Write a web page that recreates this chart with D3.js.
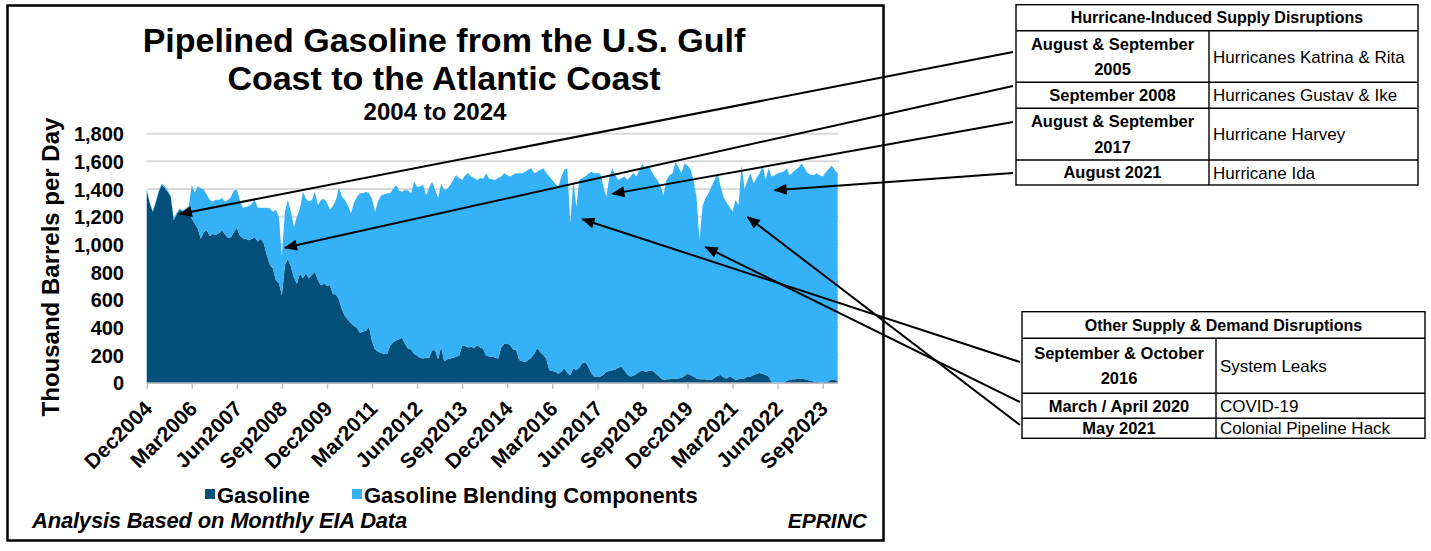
<!DOCTYPE html>
<html>
<head>
<meta charset="utf-8">
<script src="https://cdn.jsdelivr.net/npm/d3@7"></script>
<style>
  body { margin: 0; background: #fff; }
  svg text { font-family: "Liberation Sans", Arial, Helvetica, sans-serif; fill: #000; }
</style>
</head>
<body>
<svg id="chart" width="1431" height="551"></svg>
<script>
// monthly pipeline flows, thousand barrels per day, Dec 2004 .. Feb 2024
var gasoline = [
  1390,
  1300,1235,1300,1380,1430,1410,1380,1345,1175,1220,1250,1235,
  1250,1270,1185,1150,1115,1040,1090,1100,1060,1075,1070,1080,
  1100,1075,1050,1050,1090,1120,1065,1045,1040,1030,1040,1050,
  1020,1040,1005,920,855,825,740,720,630,850,895,840,
  760,715,790,755,790,755,780,800,740,705,715,700,
  705,640,640,600,530,480,455,430,410,395,360,370,
  375,400,300,240,225,215,210,205,265,290,305,315,
  325,280,245,240,210,195,180,175,180,180,235,235,
  170,260,155,170,175,180,190,195,270,265,255,260,
  250,270,255,245,195,190,190,180,175,255,280,285,
  270,240,235,165,155,150,165,180,210,250,220,200,
  175,90,85,80,65,80,105,70,55,105,90,110,
  140,150,115,70,45,45,45,55,80,85,90,95,
  110,115,90,60,45,50,65,80,90,80,85,90,
  75,55,35,20,25,25,30,30,30,35,50,65,
  55,45,30,25,25,25,20,20,35,50,55,40,
  30,45,35,20,25,30,30,45,45,55,65,70,
  65,55,45,5,0,0,0,0,15,20,25,25,
  30,30,25,20,15,8,5,3,3,5,10,25,
  20,15
];

var blending = [
  10,
  10,5,10,10,10,10,10,10,10,10,10,10,
  10,10,245,225,305,365,305,260,260,235,255,240,
  235,235,270,290,300,275,255,220,230,245,255,270,
  245,225,260,345,405,410,510,480,285,385,425,395,
  365,485,470,625,540,555,540,580,545,615,615,600,
  545,640,680,815,815,840,825,795,890,950,1010,1000,
  1005,970,1030,995,1085,1140,1150,1165,1105,1110,1125,1075,
  1055,1115,1145,1130,1245,1220,1240,1255,1175,1230,1220,1160,
  1165,1180,1240,1230,1255,1285,1310,1285,1195,1235,1260,1230,
  1230,1195,1225,1230,1320,1285,1280,1285,1305,1235,1235,1215,
  1220,1265,1280,1350,1360,1375,1375,1370,1305,1275,1320,1350,
  1345,1400,1380,1360,1350,1410,1435,1480,1095,1360,1180,1355,
  1340,1340,1395,1455,1470,1470,1465,1365,1260,1405,1460,1405,
  1355,1365,1400,1405,1445,1465,1425,1460,1495,1465,1485,1440,
  1415,1410,1385,1335,1440,1475,1485,1565,1530,1480,1535,1505,
  1490,1420,1315,1005,1250,1310,1350,1400,1430,1465,1365,1305,
  1270,1225,1200,1300,1260,1540,1370,1420,1470,1385,1415,1445,
  1505,1410,1505,1485,1500,1515,1520,1525,1535,1480,1495,1515,
  1525,1555,1525,1495,1490,1492,1510,1497,1487,1515,1535,1545,
  1520,1500
];

var seriesNames = ["Gasoline", "Gasoline Blending Components"];
var seriesColors = ["#04507a", "#35b2f7"];

var tickLabels = ["Dec2004","Mar2006","Jun2007","Sep2008","Dec2009","Mar2011","Jun2012","Sep2013",
                  "Dec2014","Mar2016","Jun2017","Sep2018","Dec2019","Mar2021","Jun2022","Sep2023"];
var yTicks = [0,200,400,600,800,1000,1200,1400,1600,1800];

// disruption tables
var hurricaneDates  = [["August & September","2005"],["September 2008"],["August & September","2017"],["August 2021"]];
var hurricaneEvents = ["Hurricanes Katrina & Rita","Hurricanes Gustav & Ike","Hurricane Harvey","Hurricane Ida"];
var hurricaneArrowMonth = ["Nov2005","Oct2008","Nov2017","May2022"];
var hurricaneArrowValue = [1220, 975, 1365, 1392];

var otherDates  = [["September & October","2016"],["March / April 2020"],["May 2021"]];
var otherEvents = ["System Leaks","COVID-19","Colonial Pipeline Hack"];
var otherArrowMonth = ["Jan2017","Jun2020","Aug2021"];
var otherArrowValue = [1182, 981, 1198];

// ---------------------------------------------------------------
var fmt = d3.utcFormat("%b%Y");
var months = d3.utcMonth.range(new Date(Date.UTC(2004, 11, 1)), new Date(Date.UTC(2024, 2, 1))).map(fmt);

var rows = months.map(function(m, i){
  return { month: m, gasoline: gasoline[i], blending: blending[i] };
});

var svg = d3.select("#chart");
var plot = { left: 146.7, right: 837.7, top: 133.7, bottom: 382.7 };

var x = d3.scalePoint().domain(months).range([plot.left, plot.right]);
var y = d3.scaleLinear().domain([0, 1800]).range([plot.bottom, plot.top]);

// chart frame
svg.append("rect")
    .attr("x", 7.5).attr("y", 5.5)
    .attr("width", 876).attr("height", 535)
    .attr("fill", "none")
    .attr("stroke", "#000")
    .attr("stroke-width", 2.5);

// title
var title = svg.append("g").attr("font-weight", "bold").attr("text-anchor", "middle");
title.append("text").attr("x", 444).attr("y", 52).attr("font-size", 34).text("Pipelined Gasoline from the U.S. Gulf");
title.append("text").attr("x", 444).attr("y", 90).attr("font-size", 34).text("Coast to the Atlantic Coast");
title.append("text").attr("x", 435).attr("y", 120).attr("font-size", 24).text("2004 to 2024");

// gridlines
svg.append("g").selectAll("line").data(yTicks.filter(function(d){ return d > 0; }))
  .enter().append("line")
    .attr("x1", plot.left).attr("x2", plot.right + 1)
    .attr("y1", function(d){ return y(d); })
    .attr("y2", function(d){ return y(d); })
    .attr("stroke", "#d9d9d9")
    .attr("stroke-width", 2);

// stacked areas
var stack = d3.stack().keys(["gasoline", "blending"]);
var layers = stack(rows);

var area = d3.area()
    .x(function(d){ return x(d.data.month); })
    .y0(function(d){ return y(d[0]); })
    .y1(function(d){ return y(d[1]); });

svg.append("g").selectAll("path").data(layers)
  .enter().append("path")
    .attr("d", area)
    .attr("fill", function(d, i){ return seriesColors[i]; });

// y axis
var yAxis = svg.append("g")
    .attr("transform", "translate(124,0)")
    .call(d3.axisLeft(y).tickValues(yTicks).tickSize(0).tickPadding(0).tickFormat(d3.format(",")));
yAxis.select(".domain").remove();
yAxis.selectAll("text")
    .attr("font-size", 20)
    .attr("font-weight", "bold")
    .attr("dy", "0.35em")
    .style("font-family", "inherit");

svg.append("text")
    .attr("transform", "translate(59,267) rotate(-90)")
    .attr("text-anchor", "middle")
    .attr("font-size", 24)
    .attr("font-weight", "bold")
    .text("Thousand Barrels per Day");

// x axis
var xAxis = svg.append("g")
    .attr("transform", "translate(0," + plot.bottom + ")")
    .call(d3.axisBottom(x).tickValues(tickLabels).tickSize(6).tickSizeOuter(0));
xAxis.select(".domain").attr("stroke", "#bfbfbf").attr("stroke-width", 1.5);
xAxis.selectAll(".tick line").attr("stroke", "#bfbfbf").attr("stroke-width", 1.5);
xAxis.selectAll("text")
    .attr("font-size", 21)
    .attr("font-weight", "bold")
    .attr("text-anchor", "end")
    .attr("transform", "translate(1,22) rotate(-45)")
    .attr("dy", "0.35em")
    .attr("x", 0).attr("y", 0)
    .style("font-family", "inherit");

// legend
var legend = svg.append("g").attr("font-weight", "bold").attr("font-size", 22);
var legendX = [205, 352];
seriesNames.forEach(function(name, i){
  legend.append("rect")
      .attr("x", legendX[i]).attr("y", 489)
      .attr("width", 10).attr("height", 10)
      .attr("fill", seriesColors[i]);
  legend.append("text")
      .attr("x", legendX[i] + 12).attr("y", 503)
      .text(name);
});

// footer
svg.append("text")
    .attr("x", 32).attr("y", 528)
    .attr("font-size", 22).attr("font-weight", "bold").attr("font-style", "italic")
    .attr("letter-spacing", -0.2)
    .text("Analysis Based on Monthly EIA Data");
svg.append("text")
    .attr("x", 867).attr("y", 528)
    .attr("text-anchor", "end")
    .attr("font-size", 21).attr("font-weight", "bold").attr("font-style", "italic")
    .text("EPRINC");

// tables
function drawTable(opt){
  var g = svg.append("g");
  var total = opt.headerH + d3.sum(opt.rowH);
  g.append("rect")
      .attr("x", opt.x).attr("y", opt.y)
      .attr("width", opt.w).attr("height", total)
      .attr("fill", "#fff").attr("stroke", "#000").attr("stroke-width", 1.4);
  g.append("text")
      .attr("x", opt.x + opt.w / 2).attr("y", opt.y + opt.headerH / 2)
      .attr("dy", "0.36em")
      .attr("text-anchor", "middle")
      .attr("font-size", 16).attr("font-weight", "bold")
      .text(opt.header);
  var top = opt.y + opt.headerH;
  g.append("line")
      .attr("x1", opt.col).attr("x2", opt.col)
      .attr("y1", top).attr("y2", opt.y + total)
      .attr("stroke", "#000").attr("stroke-width", 1.4);
  opt.rowH.forEach(function(h, i){
    g.append("line")
        .attr("x1", opt.x).attr("x2", opt.x + opt.w)
        .attr("y1", top).attr("y2", top)
        .attr("stroke", "#000").attr("stroke-width", 1.4);
    var cy = top + h / 2;
    var lines = opt.dates[i];
    lines.forEach(function(t, j){
      g.append("text")
          .attr("x", (opt.x + opt.col) / 2)
          .attr("y", cy + (j - (lines.length - 1) / 2) * 25.5)
          .attr("dy", "0.36em")
          .attr("text-anchor", "middle")
          .attr("font-size", 16.5).attr("font-weight", "bold")
          .text(t);
    });
    g.append("text")
        .attr("x", opt.col + 4).attr("y", cy)
        .attr("dy", "0.36em")
        .attr("font-size", 17)
        .text(opt.events[i]);
    top += h;
  });
  return g;
}

var hurricaneTable = {
  x: 1016, y: 4.7, w: 402, col: 1209, headerH: 26,
  rowH: [51.6, 26, 51.7, 25],
  header: "Hurricane-Induced Supply Disruptions",
  dates: hurricaneDates, events: hurricaneEvents,
  lineX: 1013, lineY: [52, 86, 122, 173]
};
var otherTable = {
  x: 1022, y: 311.7, w: 403, col: 1216, headerH: 26.6,
  rowH: [55, 25, 20],
  header: "Other Supply & Demand Disruptions",
  dates: otherDates, events: otherEvents,
  lineX: 1020, lineY: [362, 402, 425]
};

// arrows
var defs = svg.append("defs");
defs.append("marker")
    .attr("id", "arrowhead")
    .attr("viewBox", "0 0 12 10")
    .attr("refX", 11).attr("refY", 5)
    .attr("markerWidth", 7).attr("markerHeight", 5.5)
    .attr("orient", "auto")
  .append("path")
    .attr("d", "M0,0 L12,5 L0,10 Z")
    .attr("fill", "#000");

function drawArrows(table, monthsArr, valuesArr){
  var g = svg.append("g");
  monthsArr.forEach(function(m, i){
    g.append("line")
        .attr("x1", table.lineX).attr("y1", table.lineY[i])
        .attr("x2", x(m)).attr("y2", y(valuesArr[i]))
        .attr("stroke", "#000")
        .attr("stroke-width", 2)
        .attr("marker-end", "url(#arrowhead)");
  });
}

drawArrows(hurricaneTable, hurricaneArrowMonth, hurricaneArrowValue);
drawArrows(otherTable, otherArrowMonth, otherArrowValue);
drawTable(hurricaneTable);
drawTable(otherTable);
</script>
</body>
</html>
